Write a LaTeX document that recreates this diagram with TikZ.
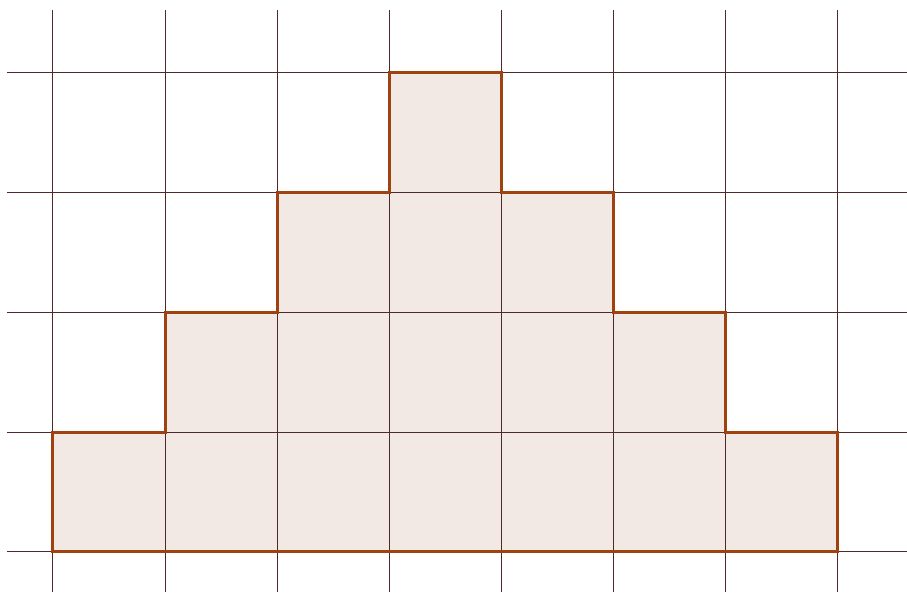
\documentclass[tikz,border=0pt]{standalone}
\definecolor{gridc}{HTML}{4E2A2A}
\definecolor{edgec}{HTML}{A0420F}
\definecolor{fillc}{HTML}{F2E9E5}
\tikzset{gridline/.style={draw=gridc,line width=1pt},
  shapeedge/.style={draw=edgec,line width=3pt,line join=miter}}
\begin{document}
\begin{tikzpicture}[x=1pt,y=-1pt]
\useasboundingbox (0,0) rectangle (907,592);
\fill[fillc] (52,551) -- (52,432) -- (165,432) -- (165,312) -- (277,312) -- (277,192) -- (389,192) -- (389,72) -- (501,72) -- (501,192) -- (613,192) -- (613,312) -- (725,312) -- (725,432) -- (837,432) -- (837,551) -- cycle;
\foreach \x in {52,165,277,389,501,613,725,837} \draw[gridline] (\x,10) -- (\x,592);
\foreach \y in {72,192,312,432,551} \draw[gridline] (7,\y) -- (907,\y);
\draw[shapeedge] (52,551) -- (52,432) -- (165,432) -- (165,312) -- (277,312) -- (277,192) -- (389,192) -- (389,72) -- (501,72) -- (501,192) -- (613,192) -- (613,312) -- (725,312) -- (725,432) -- (837,432) -- (837,551) -- cycle;
\end{tikzpicture}
\end{document}
